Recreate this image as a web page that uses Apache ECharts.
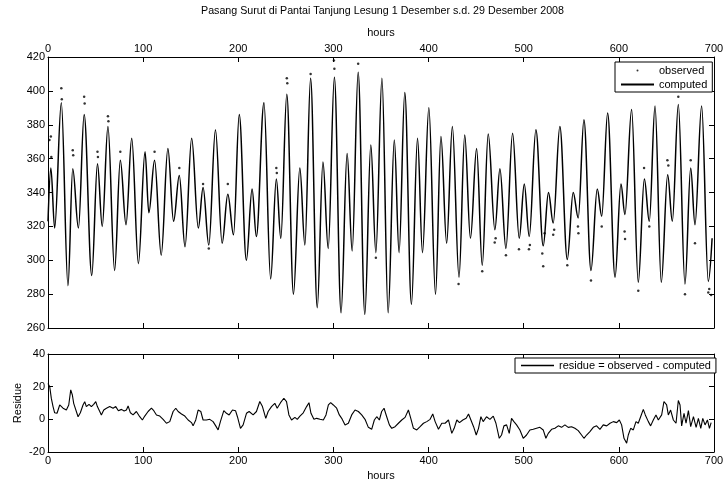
<!DOCTYPE html>
<html>
<head>
<meta charset="utf-8">
<script src="https://cdn.jsdelivr.net/npm/echarts@6/dist/echarts.min.js"></script>
<style>
html, body { margin: 0; padding: 0; background: #fff; }
#chart { width: 725px; height: 484px; }
</style>
</head>
<body>
<div id="chart"></div>
<script>
// high / low water of the computed curve (hour, level)
var compHour = [0, 3, 7, 14, 21, 26, 32, 38, 46, 52, 57, 63, 70, 76, 82, 88, 95, 102, 106, 112, 119, 126, 132, 138, 144, 151, 158, 163, 169,
  176, 183, 189, 195, 201, 208.5, 214.5, 219, 227, 234, 240, 244.7, 251, 258, 264.7, 270, 276, 283, 289, 294.5, 301, 308, 314.4, 319.7, 326, 333, 339.3, 344.6, 351,
  357.5, 364, 369, 375, 382, 388.4, 393.6, 400.3, 407.3, 413, 419, 425, 432, 438, 444, 450.5, 456.4, 462.7, 469.7, 475, 481.3, 488.3, 495.3, 500.6, 505.8, 512.8, 520.5, 526,
  531, 538, 545.8, 552, 557.3, 563.3, 570.7, 577.3, 582, 588.2, 596, 602.2, 606.4, 613.4, 620.4, 626.8, 632, 638, 644.6, 651.3, 656.2, 662.5, 669.5, 675.5, 680, 687, 694, 698];
var compLevel = [323, 354.5, 319, 393, 285, 354, 319, 386, 291, 357, 320, 379, 294, 359, 321, 372, 298, 364, 328, 359, 303, 366, 323, 350, 308, 372, 319, 343, 309,
  377, 310, 339, 315, 386, 300, 342, 314, 393, 289, 348, 313, 398, 280, 354.5, 309, 407.5, 272, 358, 307, 408, 269, 363, 305.5, 411, 268, 368, 304.5, 407.5,
  269, 371, 304.5, 399, 274, 372, 304.5, 390, 280, 373, 310, 379, 290, 374, 313, 366, 297, 374.5, 318, 354, 307, 375, 313, 345, 314, 377, 308.5, 340,
  322, 379, 300.5, 340, 325, 383, 294, 342, 326, 387, 290, 345, 327, 389, 287, 348, 323, 391, 287, 350.5, 323, 392, 286, 354.5, 321, 391, 287.5, 313];

// observed points that stand off the curve
var obsHour = [1.5, 3, 3.5, 14, 14.5, 26, 26.5, 38, 38.5, 52, 52.5, 63, 63.5, 76, 112, 138, 163, 169,
  189, 240, 240.5, 251, 251.5, 276, 300.5, 301, 326, 344.6,
  431.5, 456.4, 469.5, 470.5, 481.3, 495, 505.5, 506.5, 519.5, 520.5, 522,
  531, 532, 545.8, 557, 557.5, 570.7, 582, 606, 606.5, 620.4, 626.5, 632, 651, 652, 662.5, 669.5, 675.5, 680, 694, 695, 697];
var obsLevel = [371, 373, 361, 401.5, 395, 365, 362, 396.5, 392.5, 364, 361, 385, 382, 364, 364, 354.5, 345, 307,
  345, 354.5, 351.5, 407.5, 404.5, 410, 418, 413, 416, 301.5,
  286, 293.5, 310.5, 313, 303, 306.5, 306.5, 309, 304, 296.5, 316,
  315, 318, 297, 320, 316, 288, 320, 317, 312.5, 282, 354.5, 320, 359, 356, 396.5, 280, 359, 310, 281, 283, 279.5];

// residue = observed - computed
var resHour = [0, 1.8, 3.5, 5.3, 7, 9.5, 12.3, 15.8, 19.3, 21.8, 23.9, 25.6, 27, 29.1, 31.6, 34, 36.8, 38.6, 40.3, 43.1, 45.6, 48, 50.2, 51.9, 54.4, 56.1, 58.6, 61.4, 64.9, 68.4,
  71.2, 74, 77.2, 80, 82.4, 84.2, 86.6, 89.4, 92.9, 96.4, 99.2, 101.7, 105.2, 108.7, 111.2, 114, 117.5, 121, 124.5, 128, 131.5, 134.3, 136.8, 140.3, 143.8, 147.3, 150.8, 152.5, 155.3, 157.8,
  160.6, 163, 166.5, 170, 173.5, 176.3, 178.8, 181.2, 184.8, 187.6, 190.4, 193.9, 197.1, 199.1, 202.3, 205.1, 208.6, 211.4,
  215.6, 219.1, 222.6, 225.4, 228.9, 231.4, 234.9, 238.4, 240.9, 244.4, 247.9, 250.7, 253.2, 256, 259.5, 262, 264.8, 268.3, 271.8, 274.3, 276.4, 279.5, 282.4, 285.9, 289.4, 292.2,
  294.7, 297.1, 299.9, 303.4, 306.2, 308.7, 312.2, 315.7, 319.2, 322.7, 326.2, 329.7, 333.2, 336.7, 340.2, 343, 345.5, 348.3, 350.7, 353.2, 356, 358.8, 361.3, 364.8, 368.3, 371.8,
  375.3, 378.8, 381.3, 384.1, 387.6, 391.1, 394.6, 398.1, 401.6, 404.4, 406.9, 410.4, 413.9, 417.4, 420.9, 424.4, 426.9, 429.7, 432.5, 436, 439.5, 442, 444.5, 447.3, 450.1, 452.5,
  455, 457.4, 460.9, 464.5, 468, 470.8, 474.3, 476.7, 479.2, 482, 484.8, 487.2, 489.7, 492.5, 496, 499.5, 503, 506.5, 510, 513.5, 517, 520.5, 523.3, 525.8, 529.3, 532.8,
  536.3, 539.8, 543.3, 546.8, 550.3, 553.8, 557.3, 560.8, 563.3, 566.1, 569.6, 573.1, 576.6, 580.1, 583.6, 587.2, 590.7, 594.2, 597.7, 600.5, 602.9, 605.4, 608.2, 609.9, 612.4, 615.2,
  618, 620.4, 622.9, 625.7, 627.8, 631, 633.4, 636.2, 639, 641.5, 645, 647.4, 650.2, 652, 654.4, 657.3, 660.1, 662.5, 664.3, 666, 668.5, 670.6, 673.1, 675.5, 678.4, 681.2,
  683.6, 686.1, 688.2, 690.6, 693.1, 695.2, 697];
var resValue = [22, 20, 12.8, 7.8, 4, 3.7, 8.8, 6.8, 5.7, 8.8, 18, 14.9, 9.8, 10.8, 1.6, 4, 8.8, 10.8, 7.8, 9.2, 7.8, 9.2, 10.8, 7.8, 4.8, 2.7, 5.7, 6.8, 7.8, 6.8,
  7.8, 5.3, 6.1, 5.1, 5.7, 8.2, 4, 2.7, 4.8, 1.6, -0.4, 2, 4.8, 6.8, 5.3, 2.7, 2, 0, -2.4, -1.4, 4.8, 6.8, 4.8, 3.3, 2, -0.4, -2, -4, -0.4, 5.7,
  4.8, -0.4, -0.4, 0, -1.4, -4, -6.5, -1.4, 5.3, 3.7, 2.7, 5.7, 5.3, 1.6, -5.5, -3.4, 3.7, 4.8,
  2.7, 4.8, 10.9, 7.8, 0.6, 4.8, 7.8, 9.8, 6.8, 10.2, 12.9, 10.9, 2.7, -0.4, 1.2, 0, 2, 4, 7.8, 10.2, 3.7, 0, 0.6, 0, -0.4, 2.7,
  8.8, 10.2, 8.8, 6.8, 2.7, 0.6, -3.4, -2.4, 2.7, 5.7, 4.8, 2.7, 0, -4.9, -6.1, -0.4, 1.6, -0.4, 4.8, 6.8, 1.6, -3.4, -5.5, -4.5, -2.4, -0.4,
  1.2, 5.7, 0.6, -5.5, -6.5, -4.5, -2.4, -1.4, 0, 3.3, -1.4, -6.1, -2.4, -2.4, -0.4, -8.6, -5.5, -0.4, -2, -0.4, 0.6, 3.3, -0.4, -4.5, -9.6, -5.5,
  1.6, -1.4, 1.6, 0, 2, -2.4, -11.6, -9.6, -4, -3.4, -8.6, 0.6, -1.4, -3.4, -6.5, -11.6, -9.6, -6.5, -6.1, -5.5, -4.9, -6.5, -11.6, -8.6, -6.1, -5.5,
  -4, -4.9, -3.4, -4.9, -4.5, -5.5, -6.9, -9.6, -11.6, -9.6, -7.5, -4.9, -4, -6.1, -3.4, -4, -2.4, -1.4, -2, -0.4, -3.4, -11.6, -14.6, -9.6, -5.5, -6.5,
  -1.4, -2.4, 1.6, 6.1, 2.7, -1.4, -4, -0.4, 2.7, -0.4, 2.7, 10.9, 8.8, 2.7, 5.7, -0.4, -2.4, 11.5, 8.8, -4, 3.7, -2.4, 5.3, -4.5, 1.6, -4.9,
  0.6, -5.5, 0.6, -3.4, -0.4, -5.5, -2];

var font = "'Liberation Sans', Arial, sans-serif";

function zip(a, b) {
  var out = [];
  a.forEach(function (v, i) { out.push([v, b[i]]); });
  return out;
}

// one axis of the boxed matlab-like frame, ticks pointing inward
function frameAxis(grid, pos, min, max, step, labels) {
  return {
    type: "value",
    gridIndex: grid,
    position: pos,
    min: min,
    max: max,
    interval: step,
    axisLine: { show: true, onZero: false, lineStyle: { color: "#000", width: 1 } },
    axisTick: { show: true, inside: true, length: 5, lineStyle: { color: "#000" } },
    axisLabel: { show: labels, color: "#000", fontSize: 11, fontFamily: font, margin: 3 },
    splitLine: { show: false }
  };
}

var xTop = frameAxis(0, "top", 0, 700, 100, true);
xTop.name = "hours";
xTop.nameLocation = "middle";
xTop.nameGap = 18;
xTop.nameTextStyle = { color: "#000", fontSize: 11, fontFamily: font };
var xBot = frameAxis(1, "bottom", 0, 700, 100, true);
xBot.name = "hours";
xBot.nameLocation = "middle";
xBot.nameGap = 18;
xBot.nameTextStyle = { color: "#000", fontSize: 11, fontFamily: font };
var yRes = frameAxis(1, "left", -20, 40, 20, true);
yRes.name = "Residue";
yRes.nameLocation = "middle";
yRes.nameGap = 25;
yRes.nameMoveOverlap = false;
yRes.nameTextStyle = { color: "#000", fontSize: 11, fontFamily: font };

var option = {
  animation: false,
  backgroundColor: "#fff",
  title: {
    text: "Pasang Surut di Pantai Tanjung Lesung 1 Desember s.d. 29 Desember 2008",
    left: 201,
    top: 6,
    padding: 0,
    textStyle: { color: "#000", fontSize: 10.7, fontWeight: "normal", fontFamily: font }
  },
  grid: [
    { left: 48, top: 57, width: 666, height: 271, containLabel: false, outerBoundsMode: "none" },
    { left: 48, top: 354, width: 666, height: 98, containLabel: false, outerBoundsMode: "none" }
  ],
  xAxis: [
    xTop,
    frameAxis(0, "bottom", 0, 700, 100, false),
    xBot,
    frameAxis(1, "top", 0, 700, 100, false)
  ],
  yAxis: [
    frameAxis(0, "left", 260, 420, 20, true),
    frameAxis(0, "right", 260, 420, 20, false),
    yRes,
    frameAxis(1, "right", -20, 40, 20, false)
  ],
  legend: [
    {
      data: [{ name: "observed", icon: "circle" }, { name: "computed", icon: "rect" }],
      orient: "vertical",
      left: 615,
      top: 62,
      itemWidth: 33,
      itemHeight: 2,
      itemGap: 3,
      padding: [3, 5, 2, 6],
      borderColor: "#000",
      borderWidth: 1,
      borderRadius: 0,
      backgroundColor: "#fff",
      selectedMode: false,
      textStyle: { color: "#000", fontSize: 11, fontFamily: font }
    },
    {
      data: [{ name: "residue = observed - computed", icon: "rect" }],
      left: 515,
      top: 358,
      itemWidth: 33,
      itemHeight: 1.5,
      padding: [2, 5, 2, 6],
      borderColor: "#000",
      borderWidth: 1,
      borderRadius: 0,
      backgroundColor: "#fff",
      selectedMode: false,
      textStyle: { color: "#000", fontSize: 11, fontFamily: font }
    }
  ],
  series: [
    {
      name: "computed",
      type: "line",
      xAxisIndex: 0,
      yAxisIndex: 0,
      data: zip(compHour, compLevel),
      smooth: 0.36,
      smoothMonotone: "x",
      symbol: "none",
      showSymbol: false,
      lineStyle: { color: "#000", width: 1.5 },
      itemStyle: { color: "#000" },
      z: 2
    },
    {
      name: "observed",
      type: "scatter",
      xAxisIndex: 0,
      yAxisIndex: 0,
      data: zip(obsHour, obsLevel),
      symbol: "circle",
      symbolSize: 2.5,
      itemStyle: { color: "#000" },
      z: 3
    },
    {
      name: "residue = observed - computed",
      type: "line",
      xAxisIndex: 2,
      yAxisIndex: 2,
      data: zip(resHour, resValue),
      symbol: "none",
      showSymbol: false,
      lineStyle: { color: "#000", width: 1.1 },
      itemStyle: { color: "#000" }
    }
  ]
};

var chart = echarts.init(document.getElementById("chart"));
chart.setOption(option);
</script>
</body>
</html>
